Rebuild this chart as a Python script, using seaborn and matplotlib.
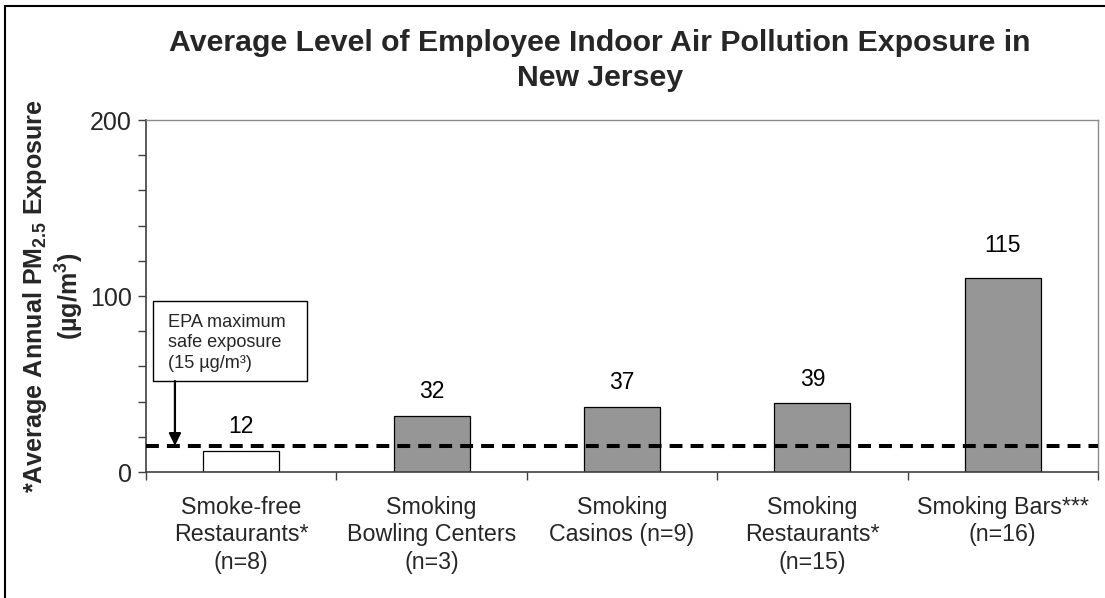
import matplotlib
matplotlib.use("Agg")
import matplotlib.pyplot as plt
from matplotlib.patches import Rectangle
import seaborn as sns
import numpy as np

categories = [
    "Smoke-free\nRestaurants*\n(n=8)",
    "Smoking\nBowling Centers\n(n=3)",
    "Smoking\nCasinos (n=9)",
    "Smoking\nRestaurants*\n(n=15)",
    "Smoking Bars***\n(n=16)",
]
# bar heights as drawn in the picture
bar_heights = [12, 32, 37, 39, 110]
# values printed above the bars
label_values = [12, 32, 37, 39, 115]
bar_colors = ["#FFFFFF", "#969696", "#969696", "#969696", "#969696"]
epa_limit = 15
title = "Average Level of Employee Indoor Air Pollution Exposure in\nNew Jersey"
ylabel = "*Average Annual PM$_{2.5}$ Exposure\n(µg/m$^{3}$)"
box_text = "EPA maximum\nsafe exposure\n(15 µg/m³)"

sns.set_theme(style="white")
plt.rcParams["font.family"] = ["Liberation Sans", "DejaVu Sans"]
plt.rcParams["mathtext.default"] = "regular"

W, H = 1105, 598
fig = plt.figure(figsize=(W / 100, H / 100), dpi=100)
ax = fig.add_axes([146 / W, 1 - 472 / H, (1098 - 146) / W, (472 - 120) / H])

sns.barplot(x=categories, y=bar_heights, hue=categories, palette=bar_colors,
            legend=False, width=0.4, edgecolor="black", linewidth=0.9,
            saturation=1, ax=ax)

for i, v in enumerate(label_values):
    ax.annotate(f"{v}", xy=(i, v), xytext=(0, 9), textcoords="offset points",
                ha="center", va="bottom", fontsize=16.5, color="black")

ax.axhline(epa_limit, color="black", lw=2.9, dashes=(3.2, 2.0), zorder=5)

ax.set_xlim(-0.5, len(categories) - 0.5)
ax.set_ylim(0, 200)

# y ticks
ax.set_yticks([0, 100, 200])
ax.set_yticks(np.arange(0, 201, 20), minor=True)
ax.tick_params(axis="y", which="both", direction="out", length=6, width=1,
               color="#404040", left=True, labelsize=18, pad=4)

# x ticks: labels at centers, marks at boundaries
ax.set_xticks(range(len(categories)))
ax.set_xticklabels(categories, fontsize=16.75, linespacing=1.27)
ax.set_xticks(np.arange(-0.5, len(categories), 1.0), minor=True)
ax.tick_params(axis="x", which="major", length=0, pad=17)
ax.tick_params(axis="x", which="minor", direction="out", length=6, width=1,
               color="#404040", bottom=True)

for s in ["left", "bottom"]:
    ax.spines[s].set_color("#404040")
    ax.spines[s].set_linewidth(1.2)
for s in ["top", "right"]:
    ax.spines[s].set_color("#8C8C8C")
    ax.spines[s].set_linewidth(1.0)

ax.set_xlabel("")
ax.set_ylabel(ylabel, fontsize=18.1, fontweight="bold", labelpad=3,
              linespacing=1.2)

# EPA annotation box
ax.add_patch(Rectangle((-0.463, 51.7), 0.809, 45.5, facecolor="white",
                       edgecolor="black", lw=1, zorder=4))
ax.text(-0.384, 73.3, box_text, fontsize=13.1, va="center", ha="left",
        linespacing=1.26, zorder=5)
ax.annotate("", xy=(-0.348, epa_limit), xytext=(-0.348, 51.7),
            arrowprops=dict(arrowstyle="-|>", mutation_scale=18, lw=1.6,
                            color="black", shrinkA=0, shrinkB=0), zorder=6)

fig.text(600 / W, 1 - 29 / H, title, ha="center", va="top", fontsize=21.8,
         fontweight="bold", linespacing=1.33)

# figure frame (top and left)
fig.add_artist(plt.Line2D([5 / W, 5 / W], [0, 1 - 6 / H], transform=fig.transFigure,
                          color="black", lw=1.5))
fig.add_artist(plt.Line2D([5 / W, 1], [1 - 6 / H, 1 - 6 / H], transform=fig.transFigure,
                          color="black", lw=1.5))

fig.savefig("out.png", dpi=100)
